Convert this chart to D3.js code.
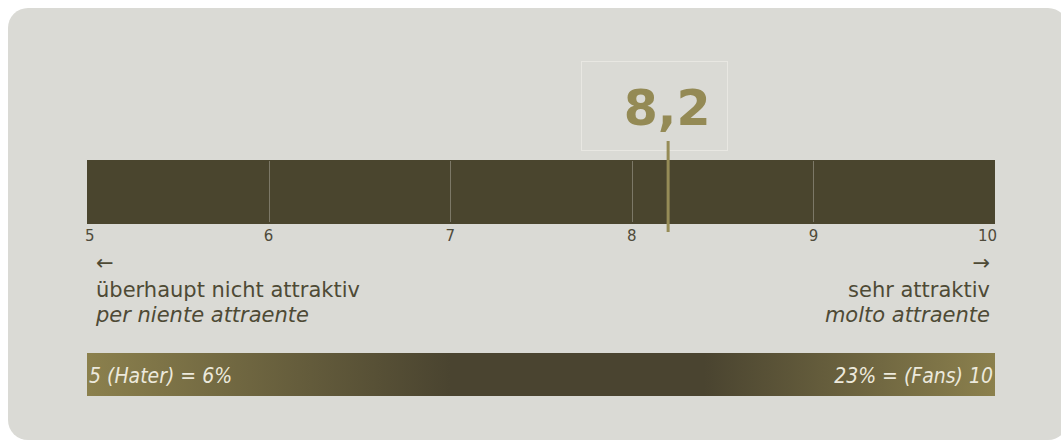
<!DOCTYPE html>
<html lang="de">
<head>
<meta charset="UTF-8">
<title>Attraktivität</title>
<script src="https://d3js.org/d3.v7.min.js"></script>
<style>
    html, body { margin: 0; padding: 0; background: #fff; }
    svg { display: block; font-family: "DejaVu Sans", Verdana, sans-serif; }
</style>
</head>
<body>
<svg id="chart" width="1061" height="441"></svg>
<script>
// scale data
const domain = [5, 10];
const tickValues = [5, 6, 7, 8, 9, 10];
const tickLabels = ["5", "6", "7", "8", "9", "10"];
const score = 8.2;
const scoreLabel = "8,2";

// captions
const leftLabels = ["überhaupt nicht attraktiv", "per niente attraente"];
const rightLabels = ["sehr attraktiv", "molto attraente"];
const haterShare = [5, 6];   // [score, percent]
const fanShare = [10, 23];

const svg = d3.select("#chart");

// panel
svg.append("rect")
    .attr("x", 8).attr("y", 8)
    .attr("width", 1060).attr("height", 432)
    .attr("rx", 20)
    .attr("fill", "#dadad5");

const x = d3.scaleLinear().domain(domain).range([87, 995]);

// main bar
svg.append("rect")
    .attr("x", x(domain[0])).attr("y", 160)
    .attr("width", x(domain[1]) - x(domain[0])).attr("height", 64)
    .attr("fill", "#4a452e");

// inner tick lines
svg.append("g")
    .selectAll("line")
    .data(tickValues.slice(1, -1))
    .join("line")
    .attr("x1", d => Math.round(x(d)) + 0.5)
    .attr("x2", d => Math.round(x(d)) + 0.5)
    .attr("y1", 161).attr("y2", 222)
    .attr("stroke", "#7c7867")
    .attr("stroke-width", 1);

// tick labels
svg.append("g")
    .selectAll("text")
    .data(tickValues)
    .join("text")
    .attr("x", (d, i) => i === 0 ? x(d) - 2 : i === tickValues.length - 1 ? x(d) + 2 : x(d))
    .attr("y", 241)
    .attr("text-anchor", (d, i) => i === 0 ? "start" : i === tickValues.length - 1 ? "end" : "middle")
    .attr("font-size", 15)
    .attr("fill", "#4f4b3b")
    .text((d, i) => tickLabels[i]);

// value box
svg.append("rect")
    .attr("x", 581.5).attr("y", 61.5)
    .attr("width", 146).attr("height", 89)
    .attr("fill", "none")
    .attr("stroke", "#e8e7e2")
    .attr("stroke-width", 1);

svg.append("text")
    .attr("x", x(score) - 1)
    .attr("y", 125)
    .attr("text-anchor", "middle")
    .attr("font-size", 49)
    .attr("font-weight", "bold")
    .attr("fill", "#948a55")
    .text(scoreLabel);

// marker
svg.append("rect")
    .attr("x", x(score) - 1.5).attr("y", 141)
    .attr("width", 3).attr("height", 91)
    .attr("fill", "#968c57");

// direction captions
const capColor = "#4e4a35";
svg.append("text").attr("x", 96).attr("y", 270)
    .attr("font-size", 21).attr("fill", capColor).text("←");
svg.append("text").attr("x", 96).attr("y", 297)
    .attr("font-size", 21).attr("fill", capColor).text(leftLabels[0]);
svg.append("text").attr("x", 96).attr("y", 322)
    .attr("font-size", 21).attr("font-style", "italic").attr("fill", capColor).text(leftLabels[1]);

svg.append("text").attr("x", 990).attr("y", 270).attr("text-anchor", "end")
    .attr("font-size", 21).attr("fill", capColor).text("→");
svg.append("text").attr("x", 990).attr("y", 297).attr("text-anchor", "end")
    .attr("font-size", 21).attr("fill", capColor).text(rightLabels[0]);
svg.append("text").attr("x", 990).attr("y", 322).attr("text-anchor", "end")
    .attr("font-size", 21).attr("font-style", "italic").attr("fill", capColor).text(rightLabels[1]);

// distribution gradient
const grad = svg.append("defs").append("linearGradient")
    .attr("id", "dist").attr("x1", "0%").attr("x2", "100%");
grad.append("stop").attr("offset", "0%").attr("stop-color", "#8b804d");
grad.append("stop").attr("offset", "40%").attr("stop-color", "#4a4430");
grad.append("stop").attr("offset", "68%").attr("stop-color", "#4a4430");
grad.append("stop").attr("offset", "100%").attr("stop-color", "#8b804d");

svg.append("rect")
    .attr("x", x(domain[0])).attr("y", 353)
    .attr("width", x(domain[1]) - x(domain[0])).attr("height", 43)
    .attr("fill", "url(#dist)");

const distFont = '"DejaVu Sans Condensed", "DejaVu Sans", sans-serif';
svg.append("text")
    .attr("x", x(domain[0]) + 2).attr("y", 383)
    .attr("font-family", distFont).attr("font-stretch", "condensed")
    .attr("font-size", 21).attr("font-style", "italic")
    .attr("fill", "#ece9dc")
    .text(`${haterShare[0]} (Hater) = ${haterShare[1]}%`);
svg.append("text")
    .attr("x", x(domain[1]) - 2).attr("y", 383)
    .attr("text-anchor", "end")
    .attr("font-family", distFont).attr("font-stretch", "condensed")
    .attr("font-size", 21).attr("font-style", "italic")
    .attr("fill", "#ece9dc")
    .text(`${fanShare[1]}% = (Fans) ${fanShare[0]}`);
</script>
</body>
</html>
